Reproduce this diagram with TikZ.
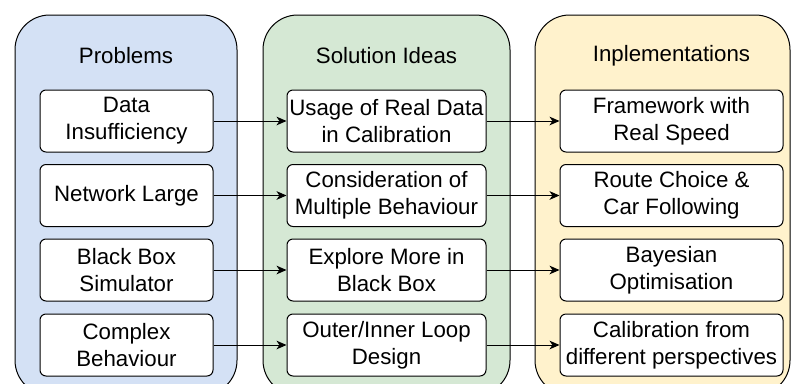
\documentclass[tikz,border=0pt]{standalone}
\usepackage{fontspec}
\setmainfont{Liberation Sans}
\usetikzlibrary{arrows.meta}

\definecolor{probfill}{HTML}{D4E1F5}
\definecolor{ideafill}{HTML}{D5E8D4}
\definecolor{implfill}{HTML}{FFF2CC}

\tikzset{every picture/.style={line width=0.75pt}}
\tikzset{
	txt/.style={font=\fontsize{16.7}{20.25}\selectfont},
	item/.style={txt, draw, fill=white, rounded corners=4.5pt, minimum height=46.5pt, align=center, inner sep=0pt},
	probbox/.style={item, minimum width=129.75pt},
	ideabox/.style={item, minimum width=149.25pt},
	implbox/.style={item, minimum width=167.25pt},
	panel/.style={draw, rounded corners=26pt},
	link/.style={-{Stealth[length=7.5pt,width=6.5pt,inset=2.2pt]}},
}

\begin{document}
\begin{tikzpicture}[x=0.75pt,y=0.75pt,yscale=-1,xscale=1]
		\clip (0,0) rectangle (793,383);

		%Shape: Rounded Rectangle [problems]
		\draw [panel, fill=probfill] (15,15) rectangle (237,395);
		%Shape: Rounded Rectangle [ideas]
		\draw [panel, fill=ideafill] (263,15) rectangle (510,395);
		%Shape: Rounded Rectangle [implementations]
		\draw [panel, fill=implfill] (535,15) rectangle (790,395);

		%Titles
		\node [txt] (tprob) at (126,56) {Problems};
		\node [txt] (tidea) at (386.5,56) {Solution Ideas};
		\node [txt] (timpl) at (671.5,56) {Inplementations};

		%Problems
		\node [probbox] (data) at (126.5,121) {Data\\Insufficiency};
		\node [probbox] (network) at (126.5,195.5) {Network Large};
		\node [probbox] (blackbox) at (126.5,270) {Black Box\\Simulator};
		\node [probbox] (complex) at (126.5,345) {Complex\\Behaviour};

		%Solution ideas
		\node [ideabox] (usage) at (386.5,121) {Usage of Real Data\\in Calibration};
		\node [ideabox] (multi) at (386.5,195.5) {Consideration of\\Multiple Behaviour};
		\node [ideabox] (explore) at (386.5,270) {Explore More in\\Black Box};
		\node [ideabox] (loop) at (386.5,345) {Outer/Inner Loop\\Design};

		%Implementations
		\node [implbox] (speed) at (671.5,121) {Framework with\\Real Speed};
		\node [implbox] (route) at (671.5,195.5) {Route Choice \&\\Car Following};
		\node [implbox] (bayes) at (671.5,270) {Bayesian\\Optimisation};
		\node [implbox] (persp) at (671.5,345) {Calibration from\\different perspectives};

		%Straight Lines
		\draw [link] (data) -- (usage);
		\draw [link] (network) -- (multi);
		\draw [link] (blackbox) -- (explore);
		\draw [link] (complex) -- (loop);
		\draw [link] (usage) -- (speed);
		\draw [link] (multi) -- (route);
		\draw [link] (explore) -- (bayes);
		\draw [link] (loop) -- (persp);

\end{tikzpicture}
\end{document}
